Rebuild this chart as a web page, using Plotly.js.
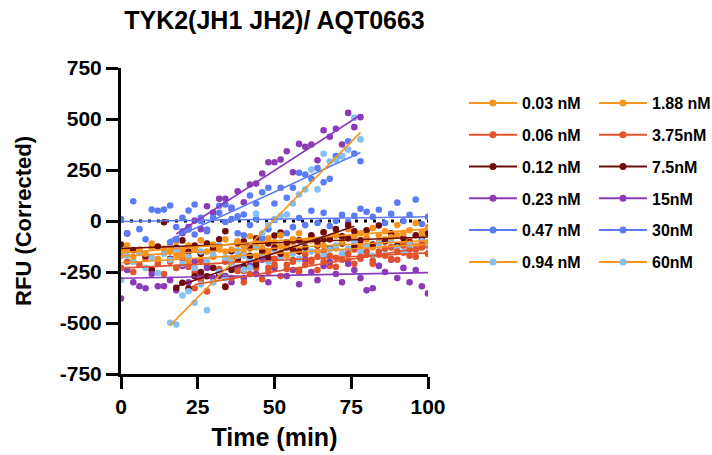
<!DOCTYPE html>
<html>
<head>
<meta charset="utf-8">
<script src="https://cdn.plot.ly/plotly-3.0.1.min.js"></script>
<style>html,body{margin:0;padding:0;background:#fff;}#chart{width:712px;height:455px;}</style>
</head>
<body>
<div id="chart"></div>
<script>
// ---- data ----
const seriesNames = ["0.03 nM","0.06 nM","0.12 nM","0.23 nM","0.47 nM","0.94 nM","1.88 nM","3.75nM","7.5nM","15nM","30nM","60nM"];

const xTickVals = [0,25,50,75,100];
const yTickVals = [-750,-500,-250,0,250,500,750];
const yTickText = ["-750","-500","-250","0","250","500","750"];

const timeFull = [0,2,4,6,8,10,12,14,16,18,20,22,24,26,28,30,32,34,36,38,40,42,44,46,48,50,52,54,56,58,60,62,64,66,68,70,72,74,76,78,80,82,84,86,88,90,92,94,96,98,100];
const time375 = [24,26,28,30,32,34,36,38,40,42,44,46,48,50,52,54,56,58,60,62,64,66,68,70,72,74,76,78,80,82,84,86,88,90,92,94,96,98,100];
const time75 = [18,20,22,24,26,28,30,32,34,36,38,40,42,44,46,48,50,52,54,56,58,60,62,64,66,68,70,72,74,76];
const time15 = [18,20,22,24,26,28,30,32,34,36,38,40,42,44,46,48,50,52,54,56,58,60,62,64,66,68,70,72,74,76,78];
const time30 = [16,18,20,22,24,26,28,30,32,34,36,38,40,42,44,46,48,50,52,54,56,58,60,62,64,66,68,70,72,74,76,78];
const time60 = [16,18,20,22,24,26,28,30,32,34,36,38,40,42,44,46,48,50,52,54,56,58,60,62,64,66,68,70,72,74,76,78];

const rfu003 = [-170,-140,-200,-150,-180,-130,-190,-160,-120,-170,-145,-200,-130,-160,-110,-175,-140,-150,-185,-115,-160,-135,-170,-100,-150,-140,-125,-170,-105,-145,-130,-95,-150,-120,-85,-135,-110,-140,-95,-120,-80,-130,-105,-90,-125,-70,-110,-95,-120,-80,-105];
const rfu006 = [-230,-200,-250,-215,-185,-240,-210,-260,-200,-230,-185,-225,-250,-195,-215,-170,-235,-200,-220,-180,-245,-190,-205,-170,-230,-185,-160,-215,-190,-240,-165,-200,-175,-150,-220,-180,-160,-195,-140,-185,-165,-210,-150,-170,-130,-190,-155,-140,-175,-130,-160];
const rfu012 = [-115,-61,-143,-150,-170,-238,-125,-6,-185,-130,-95,-150,-120,-160,-110,-135,-90,-50,-148,-107,-100,-130,-85,-140,-110,-71,-57,-130,-95,-150,-100,-75,-120,-90,-135,-70,-110,-85,-125,-95,-45,-115,-22,-100,-60,-120,-85,-105,-70,-95,-60];
const rfu023 = [-380,-240,-300,-320,-330,-260,-320,-320,-290,-340,-220,-300,-200,-260,-230,-280,-250,-270,-300,-230,-280,-220,-260,-190,-300,-230,-180,-270,-240,-310,-190,-250,-290,-220,-200,-260,-300,-210,-240,-280,-340,-330,-220,-250,-190,-280,-230,-300,-240,-320,-355];
const rfu047 = [10,-60,97,-40,-90,56,50,56,76,-30,16,51,81,0,-50,40,75,-5,10,-60,-70,-20,10,-85,-40,5,-70,-60,-30,15,-20,50,-10,40,-25,0,30,-5,25,60,45,20,55,-10,35,90,0,30,105,-15,20];
const rfu094 = [-290,-170,-200,-150,-230,-180,-255,-160,-190,-140,-210,-175,-230,-150,-195,-165,-120,-180,-210,-145,-170,-190,-130,-160,-200,-140,-175,-120,-160,-185,-130,-150,-105,-170,-140,-120,-160,-135,-100,-150,-125,-170,-110,-140,-95,-130,-150,-115,-140,-100,-125];
const rfu188 = [-150,-120,-175,-140,-160,-110,-185,-135,-150,-100,-165,-120,-140,-95,-150,-115,-130,-90,-140,-100,-125,-75,-110,-130,-85,-105,-70,-120,-90,-60,-100,-80,-115,-55,-85,-70,-100,-40,-75,-60,-90,-35,-70,-50,-80,-20,-60,-45,-10,-55,-30];
const rfu375 = [-330,-290,-345,-300,-270,-320,-280,-245,-300,-260,-230,-285,-250,-215,-270,-235,-200,-250,-215,-190,-240,-200,-170,-225,-190,-160,-210,-175,-150,-195,-165,-135,-185,-150,-120,-170,-140,-115,-160];
const rfu75 = [-327,-303,-330,-271,-250,-271,-230,-265,-323,-240,-190,-225,-170,-215,-150,-180,-130,-160,-105,-140,-95,-130,-70,-100,-55,-90,-40,-75,-20,-50];
const rfu15 = [-90,-60,-30,2,-40,72,40,109,109,60,146,92,179,184,233,288,288,301,342,239,378,364,375,298,445,413,452,375,530,460,509];
const rfu30 = [-104,-91,-50,-42,-66,16,-42,16,40,81,66,23,32,125,86,141,163,86,163,114,163,236,228,207,260,190,207,318,318,391,331,293];
const rfu60 = [-499,-507,-365,-344,-401,-311,-437,-300,-250,-280,-200,-170,-238,-229,36,-60,-20,10,24,32,86,130,155,252,155,330,292,300,318,350,506,400];

// ---- styles ----
const markerColors = ["#F7941D","#E2532B","#6E0C0C","#8B3AB8","#5B7CF5","#84BFF5","#F7941D","#E2532B","#6E0C0C","#8B3AB8","#5B7CF5","#84BFF5"];
const lineColors   = ["#F7941D","#E2532B","#6E0C0C","#8B3AB8","#5B7CF5","#F7941D","#F7941D","#E2532B","#6E0C0C","#8B3AB8","#5B7CF5","#F7941D"];

const xs = [timeFull,timeFull,timeFull,timeFull,timeFull,timeFull,timeFull,time375,time75,time15,time30,time60];
const ys = [rfu003,rfu006,rfu012,rfu023,rfu047,rfu094,rfu188,rfu375,rfu75,rfu15,rfu30,rfu60];

function linFit(x, y) {
  const n = x.length;
  let sx=0, sy=0, sxx=0, sxy=0;
  for (let i=0;i<n;i++){ sx+=x[i]; sy+=y[i]; sxx+=x[i]*x[i]; sxy+=x[i]*y[i]; }
  const b = (n*sxy - sx*sy)/(n*sxx - sx*sx);
  const a = (sy - b*sx)/n;
  const x0 = Math.min(...x), x1 = Math.max(...x);
  return {x:[x0,x1], y:[a+b*x0, a+b*x1]};
}

const traces = [];
// baseline dotted line at zero
traces.push({x:[0,100], y:[0,0], mode:'lines', line:{color:'#000', width:3, dash:'3px,6px'}, showlegend:false, hoverinfo:'skip'});
for (let i=0;i<12;i++){
  traces.push({x:xs[i], y:ys[i], mode:'markers', type:'scatter', name:seriesNames[i],
    marker:{color:markerColors[i], size:6.6}, showlegend:false});
}
for (let i=0;i<12;i++){
  const f = linFit(xs[i], ys[i]);
  traces.push({x:f.x, y:f.y, mode:'lines', line:{color:lineColors[i], width:1.6}, showlegend:false, hoverinfo:'skip'});
}
// legend entries (line + marker swatch), two columns
for (let i=0;i<12;i++){
  traces.push({x:[null], y:[null], mode:'lines+markers', name:seriesNames[i],
    line:{color:lineColors[i], width:2}, marker:{color:markerColors[i], size:7},
    legend: i<6 ? 'legend' : 'legend2', legendgroup:'g'+i, showlegend:true});
}

const FONT = 'Liberation Sans, Arial, Helvetica, sans-serif';
const legendCommon = {
  font:{family:FONT, size:16, color:'#000', weight:'bold'},
  bgcolor:'rgba(0,0,0,0)', borderwidth:0, traceorder:'grouped', tracegroupgap:8,
  itemwidth:48, xanchor:'left', yanchor:'top', xref:'container', yref:'container'
};

const layout = {
  width:712, height:455,
  margin:{l:121, r:284, t:68, b:81, pad:0},
  paper_bgcolor:'#fff', plot_bgcolor:'#fff',
  font:{family:FONT, color:'#000'},
  title:{text:'TYK2(JH1 JH2)/ AQT0663', font:{family:FONT, size:25, weight:'bold', color:'#000'},
    xref:'paper', x:0.5, xanchor:'center', yref:'container', y:0.955, yanchor:'middle'},
  xaxis:{range:[0,100], tickvals:xTickVals, ticks:'outside', ticklen:12, tickwidth:3, tickcolor:'#000',
    showline:true, linewidth:3, linecolor:'#000', showgrid:false, zeroline:false,
    tickfont:{family:FONT, size:21, weight:'bold', color:'#000'},
    title:{text:'Time (min)', font:{family:FONT, size:25, weight:'bold', color:'#000'}, standoff:12}},
  yaxis:{range:[-750,750], tickvals:yTickVals, ticktext:yTickText, ticks:'outside', ticklen:12, tickwidth:3, tickcolor:'#000',
    showline:true, linewidth:3, linecolor:'#000', showgrid:false, zeroline:false,
    tickfont:{family:FONT, size:21, weight:'bold', color:'#000'},
    title:{text:'RFU (Corrected)', font:{family:FONT, size:22, weight:'bold', color:'#000'}, standoff:23}},
  legend: Object.assign({}, legendCommon, {x:464/712, y:1-86/455}),
  legend2: Object.assign({}, legendCommon, {x:594/712, y:1-86/455}),
  showlegend:true
};

Plotly.newPlot('chart', traces, layout, {displayModeBar:false, staticPlot:true});
</script>
</body>
</html>
